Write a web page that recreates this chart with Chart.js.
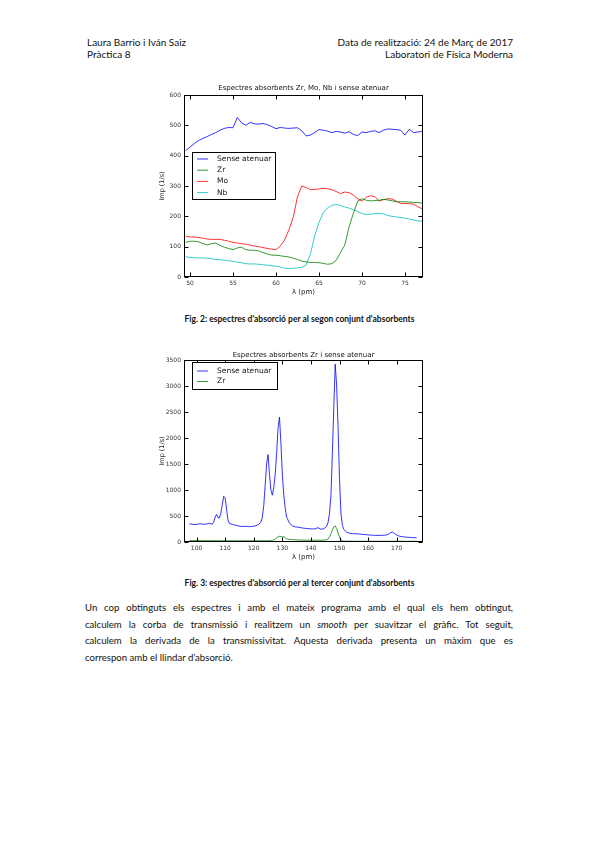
<!DOCTYPE html>
<html><head><meta charset="utf-8">
<script src="https://cdn.jsdelivr.net/npm/chart.js@4.4.0/dist/chart.umd.min.js"></script>
<style>
body{margin:0;background:#fff;}
#page{position:relative;width:599px;height:848px;overflow:hidden;font-family:Lato,'Open Sans',sans-serif;color:#111;}
.t{position:absolute;white-space:nowrap;font-size:10px;line-height:11px;}
.cap{position:absolute;left:0;width:599px;text-align:center;font-weight:bold;font-size:8.5px;line-height:10px;white-space:nowrap;}
#para{position:absolute;left:85px;width:428px;top:600px;font-size:9.6px;line-height:16.7px;}
#para div{text-align:justify;text-align-last:justify;white-space:nowrap;}
#para div.last{text-align-last:left;}
canvas{position:absolute;}
</style></head>
<body><div id="page">
<div class="t" style="left:87px;top:37px;">Laura Barrio i Iván Saiz</div>
<div class="t" style="left:87px;top:49px;">Pràctica 8</div>
<div class="t" style="right:86px;top:37px;text-align:right;">Data de realització: 24 de Març de 2017</div>
<div class="t" style="right:86px;top:49px;text-align:right;">Laboratori de Física Moderna</div>
<canvas id="c1" width="300" height="225" style="left:140px;top:78px;"></canvas>
<div class="cap" style="top:314px;">Fig. 2: espectres d'absorció per al segon conjunt d'absorbents</div>
<canvas id="c2" width="300" height="225" style="left:140px;top:343px;"></canvas>
<div class="cap" style="top:578px;">Fig. 3: espectres d'absorció per al tercer conjunt d'absorbents</div>
<div id="para">
<div>Un cop obtinguts els espectres i amb el mateix programa amb el qual els hem obtingut,</div>
<div>calculem la corba de transmissió i realitzem un <i>smooth</i> per suavitzar el gràfic. Tot seguit,</div>
<div>calculem la derivada de la transmissivitat. Aquesta derivada presenta un màxim que es</div>
<div class="last">correspon amb el llindar d’absorció.</div>
</div>
</div>
<script>
// ---------- Chart 1 data (Fig. 2) ----------
const lambda1 = [49.5,50,50.5,51,51.5,52,52.5,53,53.5,54,54.5,55,55.5,56,56.5,57,57.5,58,58.5,59,59.5,60,60.5,61,61.5,62,62.5,63,63.5,64,64.5,65,65.5,66,66.5,67,67.5,68,68.5,69,69.5,70,70.5,71,71.5,72,72.5,73,73.5,74,74.5,75,75.5,76,76.5,77];
const senseAtenuar1 = [417,428,440,450,457,463,470,476,484,490,493,492,526,508,500,510,505,504,506,502,496,489,493,491,490,491,492,482,465,468,476,486,484,481,476,480,478,474,479,470,466,478,476,480,482,476,484,488,487,486,484,468,487,476,478,480];
const zr1 = [114,118,118,116,110,106,110,112,104,98,94,90,96,98,90,88,88,86,80,76,72,72,70,68,66,62,58,52,50,48,48,47,45,42,44,55,80,105,165,210,250,258,253,251,252,253,256,254,251,248,248,248,247,246,245,244];
const mo1 = [135,132,132,130,128,125,124,124,124,121,118,114,112,110,108,105,102,100,97,94,92,90,102,122,155,196,265,300,295,288,289,290,292,291,288,282,275,280,278,270,258,250,263,268,265,250,255,258,257,250,243,242,242,240,232,225];
const nb1 = [67,64,64,63,63,62,60,58,57,55,53,52,49,47,44,43,43,42,40,39,37,36,33,29,28,29,30,32,40,75,135,180,212,228,236,239,236,231,227,222,216,209,206,207,209,210,208,203,200,198,196,194,191,188,185,184];
const xTicks1 = [50,55,60,65,70,75];
const yTicks1 = [0,100,200,300,400,500,600];
const labels1 = ['Sense atenuar','Zr','Mo','Nb'];
const title1 = 'Espectres absorbents Zr, Mo, Nb i sense atenuar';

// ---------- Chart 2 data (Fig. 3) ----------
const lambda2 = [97.5,98.5,99.5,100.5,101.5,102.5,103.5,104.5,105.5,106,106.5,107,107.5,108,108.5,109,109.5,110,110.5,111,111.5,112.5,113.5,114.5,115.5,116.5,117.5,118.5,119.5,120.5,121.5,122.5,123,123.5,124,124.5,125,125.5,126,126.5,127,127.5,128,128.5,129,129.5,130,130.5,131,131.5,132.5,133.5,134.5,135.5,136.5,137.5,138.5,139.5,140.5,141.5,142.5,143.5,144.5,145.5,146,146.5,147,147.5,148,148.5,149,149.5,150,150.5,151,151.5,152.5,153.5,154.5,155.5,156.5,157.5,158.5,159.5,160.5,161.5,162.5,163.5,164.5,165.5,166.5,167.5,168,168.5,169,169.5,170.5,171.5,172.5,173.5,174.5,175.5,176.5,177];
const senseAtenuar2 = [350,340,335,345,350,340,345,360,340,380,480,530,470,460,560,720,880,850,620,420,355,340,325,310,300,300,300,295,300,310,330,380,480,700,1100,1500,1680,1300,1000,900,1050,1300,1700,2200,2400,1900,1300,900,650,480,360,310,290,285,275,265,260,255,250,255,275,245,255,300,380,550,900,1700,2600,3420,3000,2200,1200,550,320,240,190,170,160,160,155,150,145,140,135,130,128,127,128,130,135,165,185,190,175,150,120,105,98,92,88,85,82,80];
const zr2 = [28,27,27,26,27,26,26,25,26,26,26,25,26,25,25,25,26,25,25,24,24,24,24,23,23,23,23,23,24,24,24,24,24,24,24,25,25,26,27,30,40,55,80,100,110,105,95,105,80,60,50,45,42,40,38,36,35,34,33,34,36,35,36,42,60,100,160,230,290,310,260,170,90,40,20,16,15,15,14,14,14,14,14,14,14,14,14,14,14,14,14,14,14,14,14,14,14,14,14,14,14,14,14,14];
const xTicks2 = [100,110,120,130,140,150,160,170];
const yTicks2 = [0,500,1000,1500,2000,2500,3000,3500];
const labels2 = ['Sense atenuar','Zr'];
const title2 = 'Espectres absorbents Zr i sense atenuar';

const COL = {b:'rgba(0,0,255,0.8)', g:'rgba(0,128,0,0.8)', r:'rgba(255,0,0,0.8)', c:'rgba(0,191,191,0.8)'};
const FONT = "'DejaVu Sans', sans-serif";

function series(xs, ys){ return xs.map((x,i)=>({x:x,y:ys[i]})); }

const framePlugin = {
  id:'frame',
  afterDatasetsDraw(chart, args, opts){
    const ctx = chart.ctx, a = chart.chartArea;
    ctx.save();
    ctx.strokeStyle = '#000'; ctx.lineWidth = 1;
    const L = Math.round(a.left)+0.5, R = Math.round(a.right)-0.5, T = Math.round(a.top)+0.5, B = Math.round(a.bottom)-0.5;
    ctx.strokeRect(L, T, R-L, B-T);
    ctx.beginPath();
    chart.scales.x.ticks.forEach(t=>{
      const px = Math.round(chart.scales.x.getPixelForValue(t.value))+0.5;
      ctx.moveTo(px,B); ctx.lineTo(px,B-4);
      ctx.moveTo(px,T); ctx.lineTo(px,T+4);
    });
    chart.scales.y.ticks.forEach(t=>{
      const py = Math.round(chart.scales.y.getPixelForValue(t.value))+0.5;
      ctx.moveTo(L,py); ctx.lineTo(L+4,py);
      ctx.moveTo(R,py); ctx.lineTo(R-4,py);
    });
    ctx.stroke();
    // title
    ctx.fillStyle = '#111';
    ctx.font = '7px ' + FONT;
    ctx.textAlign = 'center'; ctx.textBaseline = 'middle';
    ctx.fillText(opts.title, (a.left+a.right)/2, a.top - opts.titleGap);
    // legend
    const lg = opts.legend;
    const bx = a.left + lg.dx, by = a.top + lg.dy;
    ctx.fillStyle = '#fff';
    ctx.fillRect(bx, by, lg.w, lg.h);
    ctx.strokeStyle = '#000';
    ctx.strokeRect(Math.round(bx)+0.5, Math.round(by)+0.5, lg.w, lg.h);
    ctx.font = '7.5px ' + FONT;
    ctx.textAlign = 'left';
    chart.data.datasets.forEach((ds,i)=>{
      const y = by + lg.row0 + i*lg.rowH;
      ctx.strokeStyle = ds.borderColor; ctx.lineWidth = 1;
      ctx.beginPath(); ctx.moveTo(bx+5, y); ctx.lineTo(bx+16, y); ctx.stroke();
      ctx.fillStyle = '#111';
      ctx.fillText(ds.label, bx+25, y);
    });
    ctx.restore();
  }
};

function makeChart(id, datasets, xmin, xmax, xticks, ymax, yticks, title, titleGap, legend){
  return new Chart(document.getElementById(id), {
    type:'line',
    data:{datasets:datasets},
    plugins:[framePlugin],
    options:{
      responsive:false, animation:false, devicePixelRatio:1,
      layout:{padding:{top:17,right:17,left:0,bottom:0}},
      elements:{point:{radius:0}, line:{borderWidth:1, tension:0}},
      plugins:{legend:{display:false}, tooltip:{enabled:false},
        frame:{title:title, titleGap:titleGap, legend:legend}},
      scales:{
        x:{type:'linear', min:xmin, max:xmax,
          afterBuildTicks:s=>{s.ticks = xticks.map(v=>({value:v}));},
          afterFit:s=>{s.height = 26;},
          grid:{display:false, drawTicks:false}, border:{display:false},
          ticks:{font:{size:6, family:FONT}, color:'#333', padding:3, maxRotation:0, autoSkip:false, callback:v=>String(v)},
          title:{display:true, text:'λ (pm)', font:{size:7, family:FONT}, color:'#222', padding:{top:0,bottom:7}}},
        y:{type:'linear', min:0, max:ymax,
          afterBuildTicks:s=>{s.ticks = yticks.map(v=>({value:v}));},
          afterFit:s=>{s.width = 44;},
          grid:{display:false, drawTicks:false}, border:{display:false},
          ticks:{font:{size:6, family:FONT}, color:'#333', padding:3, autoSkip:false, callback:v=>String(v)},
          title:{display:true, text:'Imp (1/s)', font:{size:6.5, family:FONT}, color:'#222', padding:{top:18,bottom:0}}}
      }
    }
  });
}

makeChart('c1', [
  {label:labels1[0], data:series(lambda1, senseAtenuar1), borderColor:COL.b},
  {label:labels1[1], data:series(lambda1, zr1), borderColor:COL.g},
  {label:labels1[2], data:series(lambda1, mo1), borderColor:COL.r},
  {label:labels1[3], data:series(lambda1, nb1), borderColor:COL.c}
], 49.3, 77.1, xTicks1, 600, yTicks1, title1, 6.5, {dx:8, dy:57, w:83, h:47, row0:7, rowH:11.2});

makeChart('c2', [
  {label:labels2[0], data:series(lambda2, senseAtenuar2), borderColor:COL.b},
  {label:labels2[1], data:series(lambda2, zr2), borderColor:COL.g}
], 95.6, 179.2, xTicks2, 3500, yTicks2, title2, 4.5, {dx:8, dy:2, w:85, h:27, row0:9, rowH:10.5});
</script>
</body></html>
